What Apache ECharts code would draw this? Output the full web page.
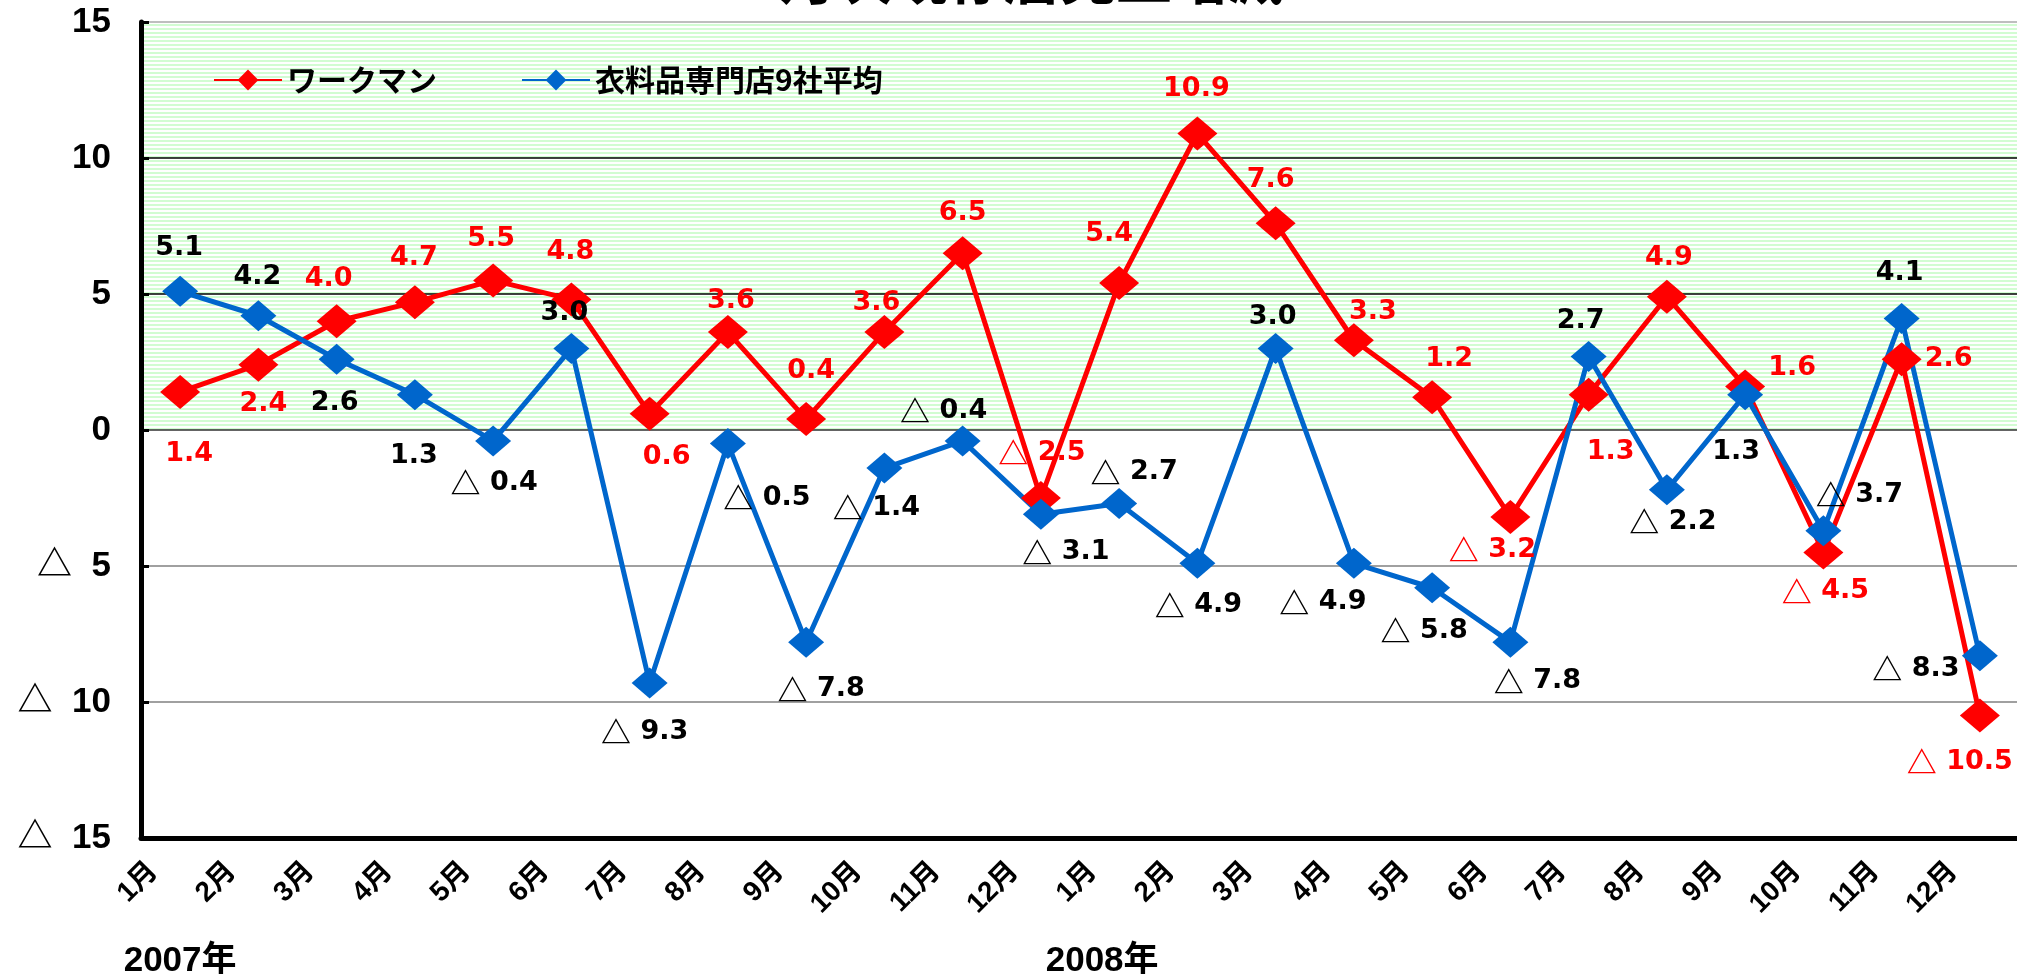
<!DOCTYPE html>
<html>
<head>
<meta charset="utf-8">
<script src="https://cdn.jsdelivr.net/npm/echarts@6/dist/echarts.min.js"></script>
<style>
html,body{margin:0;padding:0;background:#fff}
#chart{width:2017px;height:974px}
</style>
</head>
<body>
<div id="chart"></div>
<script>
// 月（2007年1月〜2008年12月）
var months = ['1月','2月','3月','4月','5月','6月','7月','8月','9月','10月','11月','12月',
              '1月','2月','3月','4月','5月','6月','7月','8月','9月','10月','11月','12月'];
var yearLabels = ['2007年','','','','','','','','','','','',
                  '2008年','','','','','','','','','','',''];

// 既存店売上 前年比増減（％）
var workman = [1.4, 2.4, 4.0, 4.7, 5.5, 4.8, 0.6, 3.6, 0.4, 3.6, 6.5, -2.5,
               5.4, 10.9, 7.6, 3.3, 1.2, -3.2, 1.3, 4.9, 1.6, -4.5, 2.6, -10.5];
var senmonten = [5.1, 4.2, 2.6, 1.3, -0.4, 3.0, -9.3, -0.5, -7.8, -1.4, -0.4, -3.1,
                 -2.7, -4.9, 3.0, -4.9, -5.8, -7.8, 2.7, -2.2, 1.3, -3.7, 4.1, -8.3];

var yMin = -15, yMax = 15, yStep = 5;

// ラベルの位置（点からのずれ px）
var workmanLabelPos = [[9,62],[5,39],[-8,-42],[-1,-44],[-2,-41],[-1,-47],[17,43],[3,-31],
  [5,-48],[-8,-29],[0,-40],[1,-45],[-10,-49],[-1,-45],[-5,-43],[19,-28],[17,-38],[-18,33],
  [22,57],[2,-39],[47,-18],[2,39],[47,0],[-20,46]];
var senmontenLabelPos = [[-1,-43],[-1,-39],[-2,44],[-1,61],[1,42],[-7,-35],[-5,49],[39,54],
  [15,47],[-8,40],[-19,-30],[25,38],[15,-31],[1,42],[-3,-31],[-31,39],[-8,43],[27,39],
  [-8,-36],[6,32],[-9,57],[36,-36],[-2,-45],[-64,13]];

var FONT = "'Liberation Sans', 'Noto Sans CJK JP', sans-serif";
var JFONT = "'Noto Sans CJK JP', sans-serif";
var LFONT = "'DejaVu Sans', sans-serif";

// 縞模様（プラス側の背景）
var stripe = document.createElement('canvas');
stripe.width = 4; stripe.height = 4;
var sctx = stripe.getContext('2d');
sctx.fillStyle = '#ffffff'; sctx.fillRect(0, 0, 4, 4);
sctx.fillStyle = '#d2fcd2'; sctx.fillRect(0, 0, 4, 2);
var stripeFill = {image: stripe, repeat: 'repeat'};
var none = 'rgba(0,0,0,0)';

function fmt(p) {
  var v = p.value;
  return v < 0 ? '{t|△} ' + (-v).toFixed(1) : v.toFixed(1);
}

function items(vals, pos) {
  return vals.map(function (v, i) {
    return {value: v, label: {offset: pos[i]}};
  });
}

function dataLabel(color) {
  return {
    show: true, position: 'inside', color: color,
    fontSize: 27, fontWeight: 'bold', fontFamily: LFONT,
    formatter: fmt,
    rich: {t: {fontFamily: JFONT, fontSize: 30, fontWeight: 'bold', color: color}}
  };
}

var chart = echarts.init(document.getElementById('chart'));
chart.setOption({
  animation: false,
  backgroundColor: '#fff',
  title: {
    text: '月次既存店売上増減',
    left: 775, top: -55,
    textStyle: {fontSize: 56, fontWeight: 'bold', color: '#000', fontFamily: JFONT}
  },
  legend: {
    left: 208, top: 60,
    itemWidth: 68, itemHeight: 26, itemGap: 84,
    textStyle: {fontSize: 30, fontWeight: 'bold', color: '#000', fontFamily: JFONT},
    data: ['ワークマン', '衣料品専門店9社平均']
  },
  grid: {left: 141, right: -2, top: 22, bottom: 136, containLabel: false, outerBoundsMode: 'none'},
  xAxis: [{
    type: 'category',
    data: months,
    boundaryGap: true,
    axisLine: {onZero: false, lineStyle: {color: '#000', width: 5}},
    axisTick: {inside: true, length: 8, lineStyle: {color: '#000', width: 3}},
    axisLabel: {interval: 0, rotate: 45, margin: 2, padding: [0, 38, 0, 0],
      fontSize: 28, fontWeight: 'bold', color: '#000', fontFamily: FONT},
    splitLine: {show: false}
  }, {
    type: 'category',
    data: yearLabels,
    position: 'bottom',
    offset: 106,
    boundaryGap: true,
    axisLine: {show: false, onZero: false},
    axisTick: {show: false},
    axisLabel: {interval: 0, margin: 0, fontSize: 35, fontWeight: 'bold',
      color: '#000', fontFamily: FONT,
      formatter: function (v, i) { return i === 12 ? v + '{p|}' : v; },
      rich: {p: {width: 34}}},
    splitLine: {show: false}
  }],
  yAxis: {
    type: 'value',
    min: yMin, max: yMax, interval: yStep,
    axisLine: {show: true, lineStyle: {color: '#000', width: 5}},
    axisTick: {show: true, inside: true, length: 8, lineStyle: {color: '#000', width: 3}},
    axisLabel: {
      margin: 30, fontSize: 35, fontWeight: 'bold', color: '#000', fontFamily: FONT,
      formatter: function (v) { return v < 0 ? '△  ' + (-v) : String(v); }
    },
    splitLine: {lineStyle: {width: 1.5,
      color: ['#000', '#808080', '#808080', '#303030', '#000', '#000', '#a8a8a8']}},
    splitArea: {show: true, areaStyle: {color: [none, none, none, stripeFill, stripeFill, stripeFill]}}
  },
  series: [{
    name: 'ワークマン',
    type: 'line',
    data: items(workman, workmanLabelPos),
    symbol: 'diamond',
    symbolSize: [40, 34],
    showAllSymbol: true,
    lineStyle: {color: '#ff0000', width: 5},
    itemStyle: {color: '#ff0000'},
    label: dataLabel('#ff0000')
  }, {
    name: '衣料品専門店9社平均',
    type: 'line',
    data: items(senmonten, senmontenLabelPos),
    symbol: 'diamond',
    symbolSize: [36, 31],
    showAllSymbol: true,
    lineStyle: {color: '#0066cc', width: 5},
    itemStyle: {color: '#0066cc'},
    label: dataLabel('#000')
  }]
});
</script>
</body>
</html>
